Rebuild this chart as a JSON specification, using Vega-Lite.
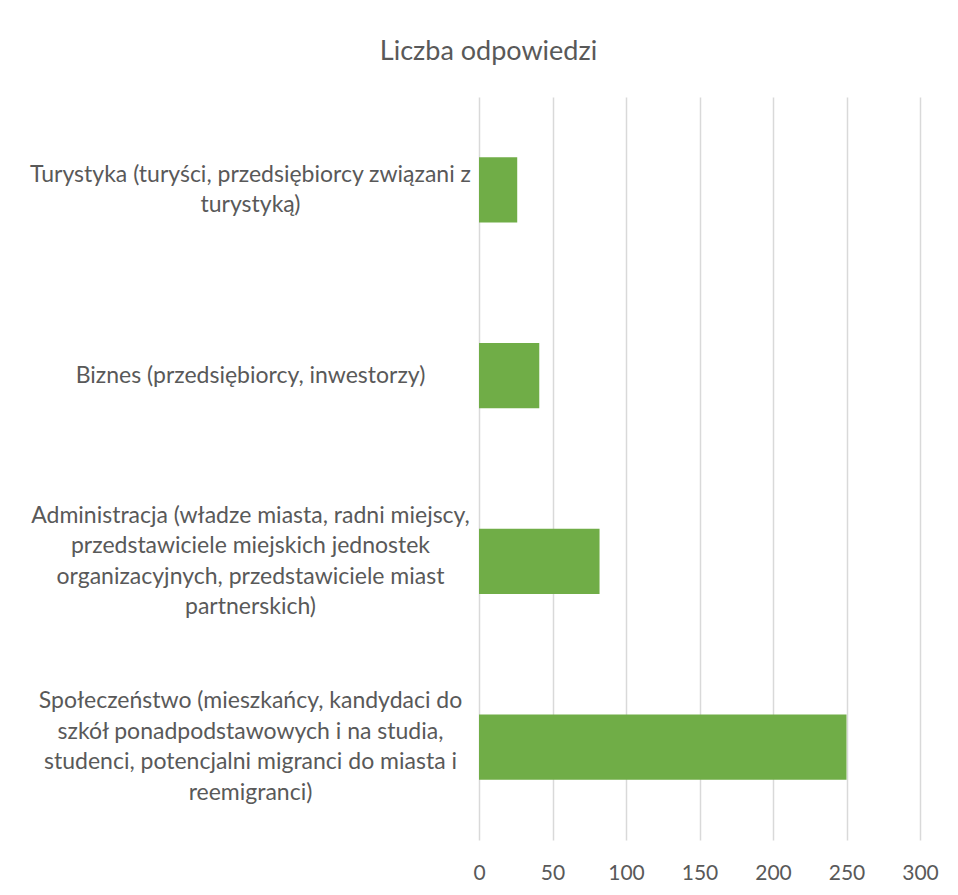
{
  "$schema": "https://vega.github.io/schema/vega-lite/v6.json",
  "autosize": {"type": "none"},
  "padding": {"left": 479, "top": 97, "right": 38, "bottom": 55},
  "width": 441,
  "height": 743,
  "background": "white",
  "title": {
    "text": "Liczba odpowiedzi",
    "font": "Lato",
    "fontSize": 27,
    "fontWeight": "normal",
    "color": "#595959",
    "anchor": "middle",
    "baseline": "alphabetic",
    "dx": -211,
    "offset": 10
  },
  "data": {
    "values": [
      {"kategoria": "Turystyka (turyści, przedsiębiorcy związani z|turystyką)", "liczba": 26},
      {"kategoria": "Biznes (przedsiębiorcy, inwestorzy)", "liczba": 41},
      {"kategoria": "Administracja (władze miasta, radni miejscy,|przedstawiciele miejskich jednostek|organizacyjnych, przedstawiciele miast|partnerskich)", "liczba": 82},
      {"kategoria": "Społeczeństwo (mieszkańcy, kandydaci do|szkół ponadpodstawowych i na studia,|studenci, potencjalni migranci do miasta i|reemigranci)", "liczba": 250}
    ]
  },
  "mark": {"type": "bar", "color": "#70ad47"},
  "encoding": {
    "y": {
      "field": "kategoria",
      "type": "nominal",
      "sort": null,
      "title": null,
      "scale": {"paddingInner": 0.65, "paddingOuter": 0.325},
      "axis": {
        "domain": false,
        "ticks": false,
        "labelExpr": "split(datum.label, '|')",
        "labelAlign": "center",
        "labelBaseline": "middle",
        "labelOffset": {"expr": "-(length(split(datum.value, '|')) - 1) * 15.25"},
        "labelPadding": 229,
        "labelLimit": 600,
        "labelLineHeight": 30.5,
        "labelFont": "Lato",
        "labelFontSize": 23,
        "labelColor": "#595959"
      }
    },
    "x": {
      "field": "liczba",
      "type": "quantitative",
      "title": null,
      "scale": {"domain": [0, 300], "nice": false},
      "axis": {
        "values": [0, 50, 100, 150, 200, 250, 300],
        "domain": false,
        "ticks": false,
        "grid": true,
        "gridColor": "#d9d9d9",
        "gridWidth": 1.5,
        "labelFlush": false,
        "labelOverlap": false,
        "labelPadding": 22,
        "labelFont": "Lato",
        "labelFontSize": 21,
        "labelColor": "#595959"
      }
    }
  },
  "config": {"view": {"stroke": null}}
}
